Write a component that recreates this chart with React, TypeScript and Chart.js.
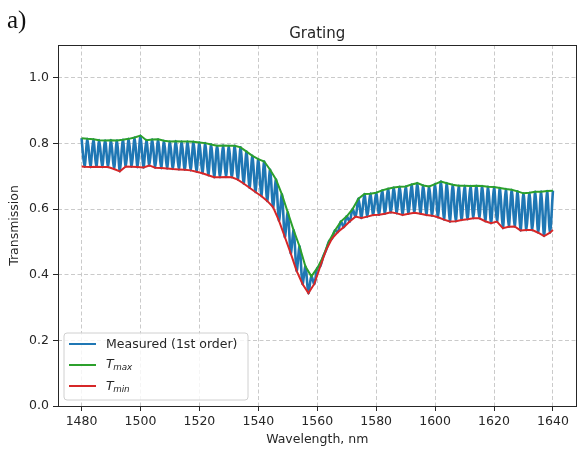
import React, { useEffect, useRef } from "react";
import { Chart, registerables } from "chart.js";

Chart.register(...registerables);

// ---- Data ----
const xTicks = [1480, 1500, 1520, 1540, 1560, 1580, 1600, 1620, 1640];
const yTicks = [0.0, 0.2, 0.4, 0.6, 0.8, 1.0];

// Upper envelope (fringe peaks), every 2 nm from 1480 to 1640
const tmaxWl = [
  1480, 1482, 1484, 1486, 1488, 1490, 1492, 1494, 1496, 1498,
  1500, 1502, 1504, 1506, 1508, 1510, 1512, 1514, 1516, 1518,
  1520, 1522, 1524, 1526, 1528, 1530, 1532, 1534, 1536, 1538,
  1540, 1542, 1544, 1546, 1548, 1550, 1552, 1554, 1556, 1558,
  1560, 1562, 1564, 1566, 1568, 1570, 1572, 1574, 1576, 1578,
  1580, 1582, 1584, 1586, 1588, 1590, 1592, 1594, 1596, 1598,
  1600, 1602, 1604, 1606, 1608, 1610, 1612, 1614, 1616, 1618,
  1620, 1622, 1624, 1626, 1628, 1630, 1632, 1634, 1636, 1638,
  1640,
];
const tmaxVal = [
  0.816, 0.814, 0.813, 0.810, 0.809, 0.810, 0.809, 0.811, 0.814, 0.818,
  0.824, 0.810, 0.812, 0.813, 0.808, 0.806, 0.807, 0.806, 0.806, 0.805,
  0.803, 0.801, 0.797, 0.793, 0.794, 0.793, 0.793, 0.788, 0.775, 0.762,
  0.752, 0.745, 0.720, 0.690, 0.645, 0.590, 0.535, 0.486, 0.425, 0.395,
  0.420, 0.455, 0.502, 0.535, 0.562, 0.578, 0.600, 0.632, 0.646, 0.647,
  0.650, 0.657, 0.662, 0.666, 0.668, 0.669, 0.675, 0.679, 0.672, 0.669,
  0.676, 0.684, 0.679, 0.674, 0.671, 0.671, 0.670, 0.671, 0.670, 0.668,
  0.667, 0.664, 0.661, 0.659, 0.654, 0.648, 0.650, 0.653, 0.653, 0.655,
  0.656,
];

// Lower envelope (fringe troughs)
const tminWl = [
  1480, 1481, 1483, 1485, 1487, 1489, 1491, 1493, 1495, 1497,
  1499, 1501, 1503, 1505, 1507, 1509, 1511, 1513, 1515, 1517,
  1519, 1521, 1523, 1525, 1527, 1529, 1531, 1533, 1535, 1537,
  1539, 1541, 1543, 1545, 1547, 1549, 1551, 1553, 1555, 1557,
  1559, 1561, 1563, 1565, 1567, 1569, 1571, 1573, 1575, 1577,
  1579, 1581, 1583, 1585, 1587, 1589, 1591, 1593, 1595, 1597,
  1599, 1601, 1603, 1605, 1607, 1609, 1611, 1613, 1615, 1617,
  1619, 1621, 1623, 1625, 1627, 1629, 1631, 1633, 1635, 1637,
  1639, 1640,
];
const tminVal = [
  0.730, 0.729, 0.728, 0.729, 0.728, 0.728, 0.722, 0.715, 0.730, 0.729,
  0.728, 0.727, 0.733, 0.726, 0.725, 0.724, 0.722, 0.721, 0.720, 0.718,
  0.714, 0.709, 0.703, 0.697, 0.697, 0.698, 0.697, 0.690, 0.678, 0.665,
  0.652, 0.640, 0.625, 0.606, 0.565, 0.515, 0.465, 0.412, 0.372, 0.344,
  0.372, 0.425, 0.475, 0.510, 0.530, 0.545, 0.562, 0.577, 0.573, 0.577,
  0.582, 0.583, 0.586, 0.590, 0.587, 0.582, 0.586, 0.589, 0.586, 0.582,
  0.580, 0.575, 0.568, 0.562, 0.563, 0.567, 0.569, 0.572, 0.572, 0.563,
  0.557, 0.562, 0.542, 0.546, 0.547, 0.535, 0.536, 0.536, 0.528, 0.518,
  0.528, 0.536,
];

const TITLE = "Grating";
const X_LABEL = "Wavelength, nm";
const Y_LABEL = "Transmission";
const PANEL_LABEL = "a)";

const BLUE = "#1f77b4";
const GREEN = "#2ca02c";
const RED = "#d62728";
const FONT = "'DejaVu Sans', sans-serif";
const FS = 12.5;

function measuredPoints() {
  // measured fringes alternate between the observed peaks and troughs
  const pts: { x: number; y: number }[] = [];
  tmaxWl.forEach((w, i) => pts.push({ x: w, y: tmaxVal[i] }));
  tminWl.forEach((w, i) => {
    if (w % 2 === 1) pts.push({ x: w, y: tminVal[i] });
  });
  pts.sort((a, b) => a.x - b.x);
  return pts;
}

const decorPlugin = {
  id: "decor",
  beforeDraw(chart: any) {
    const ctx = chart.ctx;
    ctx.save();
    ctx.fillStyle = "#ffffff";
    ctx.fillRect(0, 0, chart.width, chart.height);
    ctx.restore();
  },
  afterDraw(chart: any) {
    const ctx = chart.ctx;
    const a = chart.chartArea;
    ctx.save();
    // axes box
    ctx.strokeStyle = "#262626";
    ctx.lineWidth = 1;
    ctx.strokeRect(Math.round(a.left) + 0.5, Math.round(a.top) + 0.5, Math.round(a.right - a.left) - 1, Math.round(a.bottom - a.top));

    // title
    ctx.fillStyle = "#262626";
    ctx.font = `15px ${FONT}`;
    ctx.textAlign = "center";
    ctx.textBaseline = "alphabetic";
    ctx.fillText(TITLE, (a.left + a.right) / 2, 38);

    // axis labels
    ctx.font = `${FS}px ${FONT}`;
    ctx.fillText(X_LABEL, (a.left + a.right) / 2, 443);
    ctx.save();
    ctx.translate(18, (a.top + a.bottom) / 2);
    ctx.rotate(-Math.PI / 2);
    ctx.fillText(Y_LABEL, 0, 0);
    ctx.restore();

    // legend
    const lx = 64, ly = 333, lw = 184, lh = 67, r = 3;
    ctx.beginPath();
    ctx.moveTo(lx + r, ly);
    ctx.lineTo(lx + lw - r, ly);
    ctx.quadraticCurveTo(lx + lw, ly, lx + lw, ly + r);
    ctx.lineTo(lx + lw, ly + lh - r);
    ctx.quadraticCurveTo(lx + lw, ly + lh, lx + lw - r, ly + lh);
    ctx.lineTo(lx + r, ly + lh);
    ctx.quadraticCurveTo(lx, ly + lh, lx, ly + lh - r);
    ctx.lineTo(lx, ly + r);
    ctx.quadraticCurveTo(lx, ly, lx + r, ly);
    ctx.closePath();
    ctx.fillStyle = "rgba(255,255,255,0.8)";
    ctx.fill();
    ctx.strokeStyle = "#d0d0d0";
    ctx.lineWidth = 1;
    ctx.stroke();

    const rows = [
      { c: BLUE, y: 344 },
      { c: GREEN, y: 365 },
      { c: RED, y: 386 },
    ];
    rows.forEach((row) => {
      ctx.beginPath();
      ctx.strokeStyle = row.c;
      ctx.lineWidth = 2;
      ctx.moveTo(69, row.y);
      ctx.lineTo(96, row.y);
      ctx.stroke();
    });
    ctx.fillStyle = "#262626";
    ctx.textAlign = "left";
    ctx.textBaseline = "middle";
    ctx.font = `${FS}px ${FONT}`;
    ctx.fillText("Measured (1st order)", 106, 344.5);
    const sub = (y: number, s: string) => {
      ctx.font = `italic ${FS}px ${FONT}`;
      ctx.fillText("T", 106, y);
      const w = ctx.measureText("T").width;
      ctx.font = `italic ${FS * 0.7}px ${FONT}`;
      ctx.fillText(s, 106 + w - 0.5, y + 3);
    };
    sub(364.5, "max");
    sub(386.5, "min");
    ctx.restore();
  },
};

const gridOpts = {
  color: "#c4c4c4",
  lineWidth: 0.9,
  drawTicks: true,
  tickLength: 5,
  tickColor: "#262626",
  tickWidth: 1,
  tickBorderDash: [100, 0],
};

export default function App() {
  const ref = useRef<HTMLCanvasElement | null>(null);

  useEffect(() => {
    if (!ref.current) return;
    const chart = new Chart(ref.current, {
      type: "line",
      data: {
        datasets: [
          {
            label: "Measured (1st order)",
            data: measuredPoints(),
            borderColor: BLUE,
            borderWidth: 2.6,
            pointRadius: 0,
            tension: 0.3,
            order: 3,
          },
          {
            label: "Tmax",
            data: tmaxWl.map((w, i) => ({ x: w, y: tmaxVal[i] })),
            borderColor: GREEN,
            borderWidth: 2,
            pointRadius: 0,
            tension: 0,
            order: 2,
          },
          {
            label: "Tmin",
            data: tminWl.map((w, i) => ({ x: w, y: tminVal[i] })),
            borderColor: RED,
            borderWidth: 2,
            pointRadius: 0,
            tension: 0,
            order: 1,
          },
        ],
      },
      options: {
        animation: false,
        responsive: false,
        devicePixelRatio: 1,
        layout: { padding: { top: 45, right: 2.5, left: 0, bottom: 0 } },
        plugins: {
          legend: { display: false },
          title: { display: false },
          tooltip: { enabled: false },
        },
        scales: {
          x: {
            type: "linear",
            min: 1472,
            max: 1648,
            afterBuildTicks: (s: any) => {
              s.ticks = xTicks.map((v) => ({ value: v }));
            },
            afterFit: (s: any) => {
              s.height = 47;
            },
            border: { display: false, dash: [4, 2.5] },
            grid: gridOpts,
            ticks: {
              autoSkip: false,
              maxRotation: 0,
              padding: 3,
              color: "#262626",
              font: { family: FONT, size: FS },
              callback: (v: any) => String(v),
            },
          },
          y: {
            type: "linear",
            min: 0,
            max: 1.1,
            afterBuildTicks: (s: any) => {
              s.ticks = yTicks.map((v) => ({ value: v }));
            },
            afterFit: (s: any) => {
              s.width = 58;
            },
            border: { display: false, dash: [4, 2.5] },
            grid: gridOpts,
            ticks: {
              padding: 4,
              color: "#262626",
              font: { family: FONT, size: FS },
              callback: (v: any) => Number(v).toFixed(1),
            },
          },
        },
      },
      plugins: [decorPlugin],
    } as any);
    return () => chart.destroy();
  }, []);

  return (
    <div style={{ position: "fixed", left: 0, top: 0, width: 579, height: 453, background: "#fff" }}>
      <canvas ref={ref} width={579} height={453} style={{ width: 579, height: 453, display: "block" }} />
      <div
        style={{
          position: "absolute",
          left: 7,
          top: 3,
          fontFamily: "'Liberation Serif', 'Times New Roman', serif",
          fontSize: 25,
          lineHeight: "34px",
          color: "#111",
        }}
      >
        {PANEL_LABEL}
      </div>
    </div>
  );
}
